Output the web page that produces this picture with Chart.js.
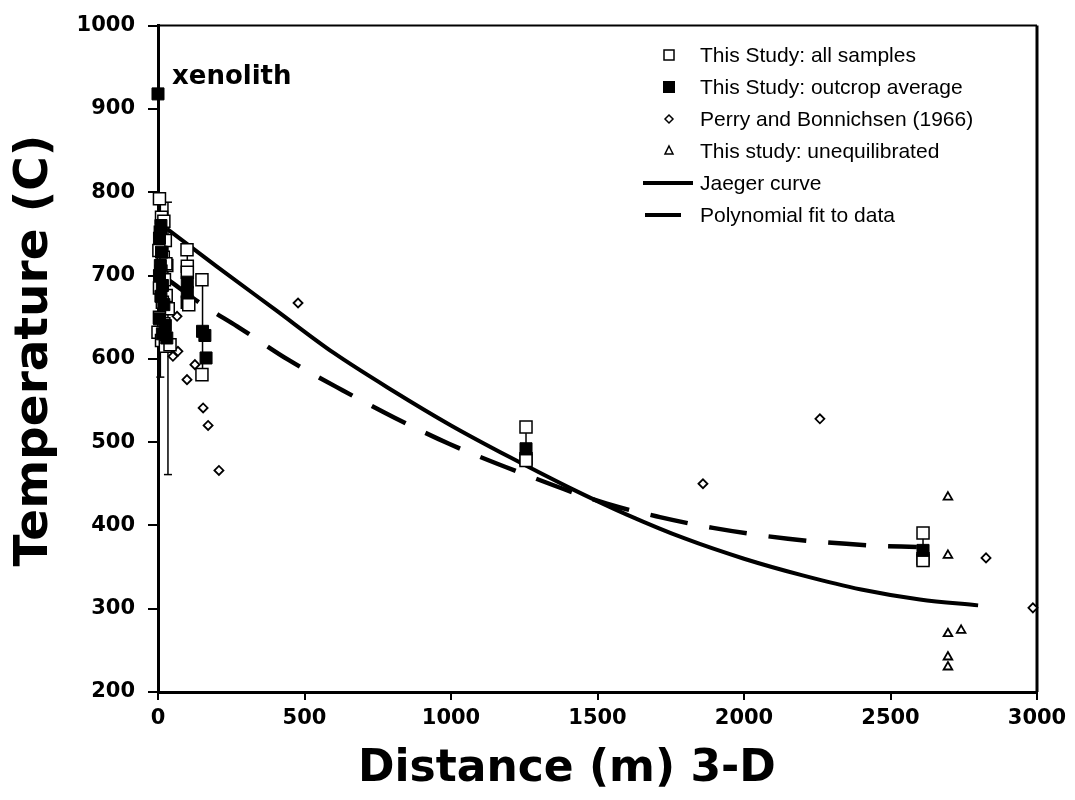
<!DOCTYPE html>
<html>
<head>
<meta charset="utf-8">
<script src="https://cdn.jsdelivr.net/npm/chart.js@4.4.1/dist/chart.umd.min.js"></script>
<style>
  html, body { margin: 0; padding: 0; background: #fff; }
  #wrap { width: 1075px; height: 800px; }
</style>
</head>
<body>
<div id="wrap"><canvas id="tempChart" width="1075" height="800"></canvas></div>
<script>
// --- datos ---
const xTicks = [0, 500, 1000, 1500, 2000, 2500, 3000];
const yTicks = [200, 300, 400, 500, 600, 700, 800, 900, 1000];

// This Study: all samples (cuadro abierto)
const allSamplesX = [5, 12, 20, 8, 25, 3, 18, 30, 27, 10, 22, 5, 28, 15, 35, 5, 20, 0, 12, 25, 41,
                     99, 100, 100, 100, 105, 150, 150, 1256, 1256, 1256, 2611, 2611, 2611];
const allSamplesY = [792, 770, 765, 752, 742, 730, 722, 712, 714, 705, 695, 685, 676, 668, 660, 650, 642, 632, 622, 615, 617,
                     731, 711, 704, 668, 665, 695, 581, 518, 480, 478, 391, 360, 358];

// This Study: outcrop average (cuadro lleno)
const outcropX = [0, 10, 5, 12, 8, 5, 15, 10, 20, 5, 25, 15, 30, 100, 100, 152, 160, 164, 1256, 2611];
const outcropY = [918, 760, 745, 728, 712, 700, 688, 675, 665, 648, 640, 630, 625, 692, 680, 633, 628, 601, 492, 370];

// Perry and Bonnichsen (1966)
const perryX = [65, 68, 51, 126, 99, 154, 171, 208, 478, 1860, 2259, 2826, 2986];
const perryY = [651, 609, 603, 593, 575, 541, 520, 466, 667, 450, 528, 361, 301];

// This study: unequilibrated
const uneqX = [2696, 2696, 2696, 2741, 2696, 2696];
const uneqY = [434, 364, 270, 274, 242, 230];

// barras de error: x, minimo, maximo
const errX = [8, 34, 100, 152, 1256, 2611];
const errLo = [578, 461, 665, 581, 478, 358];
const errHi = [792, 788, 731, 700, 518, 391];

// Jaeger curve
const jaegerX = [31, 200, 400, 600, 800, 1000, 1200, 1400, 1600, 1800, 2000, 2200, 2400, 2600, 2799];
const jaegerY = [756, 711, 659, 607, 562, 520, 482, 446, 413, 384, 360, 340, 323, 311, 304];

// Polynomial fit to data
const polyX = [34, 160, 270, 444, 631, 809, 993, 1246, 1532, 1713, 1894, 2150, 2430, 2590];
const polyY = [695, 663, 639, 599, 562, 529, 498, 462, 426, 410, 397, 384, 376, 374];

const legendLabels = [
    'This Study: all samples',
    'This Study: outcrop average',
    'Perry and Bonnichsen (1966)',
    'This study: unequilibrated',
    'Jaeger curve',
    'Polynomial fit to data'
];

function toPoints(xs, ys) {
    return xs.map((x, i) => ({ x: x, y: ys[i] }));
}

function errorPoints() {
    const pts = [];
    errX.forEach((x, i) => {
        pts.push({ x: x, y: errLo[i] });
        pts.push({ x: x, y: errHi[i] });
        pts.push({ x: x, y: null });
    });
    return pts;
}

const boldFont = '"DejaVu Sans", sans-serif';

// marco superior y derecho
const framePlugin = {
    id: 'frame',
    beforeDatasetsDraw(chart) {
        const { ctx, chartArea } = chart;
        ctx.save();
        ctx.strokeStyle = '#000';
        ctx.lineWidth = 2;
        ctx.beginPath();
        ctx.moveTo(chartArea.left, chartArea.top);
        ctx.lineTo(chartArea.right, chartArea.top);
        ctx.stroke();
        ctx.lineWidth = 3;
        ctx.beginPath();
        ctx.moveTo(chartArea.right, chartArea.top);
        ctx.lineTo(chartArea.right, chartArea.bottom);
        ctx.stroke();
        ctx.restore();
    }
};

// leyenda y etiqueta "xenolith"
const legendPlugin = {
    id: 'insideLegend',
    afterDraw(chart) {
        const ctx = chart.ctx;
        ctx.save();
        ctx.fillStyle = '#000';
        ctx.strokeStyle = '#000';
        ctx.textBaseline = 'middle';
        ctx.font = '21px "Liberation Sans", Arial, sans-serif';
        const rows = [55, 87, 119, 151, 183, 215];
        const mx = 669;
        const tx = 700;

        // cuadro abierto
        ctx.lineWidth = 1.5;
        ctx.strokeRect(mx - 5, rows[0] - 5, 10, 10);
        // cuadro lleno
        ctx.fillRect(mx - 6, rows[1] - 6, 12, 12);
        // rombo
        ctx.beginPath();
        ctx.moveTo(mx, rows[2] - 4);
        ctx.lineTo(mx + 4, rows[2]);
        ctx.lineTo(mx, rows[2] + 4);
        ctx.lineTo(mx - 4, rows[2]);
        ctx.closePath();
        ctx.stroke();
        // triangulo
        ctx.beginPath();
        ctx.moveTo(mx, rows[3] - 5);
        ctx.lineTo(mx + 4, rows[3] + 3);
        ctx.lineTo(mx - 4, rows[3] + 3);
        ctx.closePath();
        ctx.stroke();
        // lineas
        ctx.lineWidth = 4;
        ctx.beginPath();
        ctx.moveTo(643, rows[4]);
        ctx.lineTo(693, rows[4]);
        ctx.stroke();
        ctx.beginPath();
        ctx.moveTo(645, rows[5]);
        ctx.lineTo(681, rows[5]);
        ctx.stroke();

        legendLabels.forEach((label, i) => {
            ctx.fillText(label, tx, rows[i] + 1);
        });

        // etiqueta del xenolito, al lado de su punto
        const xs = chart.scales.x;
        const ys = chart.scales.y;
        ctx.font = 'bold 26px ' + boldFont;
        ctx.textBaseline = 'middle';
        ctx.fillText('xenolith', xs.getPixelForValue(0) + 14, ys.getPixelForValue(918) - 17);
        ctx.restore();
    }
};

new Chart(document.getElementById('tempChart').getContext('2d'), {
    type: 'scatter',
    data: {
        datasets: [
            {
                label: legendLabels[1],
                data: toPoints(outcropX, outcropY),
                pointStyle: 'rect',
                pointRadius: 8.5,
                backgroundColor: '#000',
                borderColor: '#000',
                borderWidth: 1,
                clip: false,
                order: 0
            },
            {
                label: legendLabels[0],
                data: toPoints(allSamplesX, allSamplesY),
                pointStyle: 'rect',
                pointRadius: 8.5,
                backgroundColor: '#fff',
                borderColor: '#000',
                borderWidth: 1.5,
                clip: false,
                order: 1
            },
            {
                label: legendLabels[2],
                data: toPoints(perryX, perryY),
                pointStyle: 'rectRot',
                pointRadius: 4.5,
                backgroundColor: '#fff',
                borderColor: '#000',
                borderWidth: 1.8,
                clip: false,
                order: 2
            },
            {
                label: legendLabels[3],
                data: toPoints(uneqX, uneqY),
                pointStyle: 'triangle',
                pointRadius: 5,
                backgroundColor: '#fff',
                borderColor: '#000',
                borderWidth: 1.8,
                clip: false,
                order: 3
            },
            {
                label: 'error',
                data: errorPoints(),
                showLine: true,
                spanGaps: false,
                borderColor: '#000',
                borderWidth: 1.5,
                pointStyle: 'line',
                pointRadius: 4,
                pointBorderWidth: 1.5,
                pointBorderColor: '#000',
                clip: false,
                order: 4
            },
            {
                label: legendLabels[4],
                data: toPoints(jaegerX, jaegerY),
                showLine: true,
                cubicInterpolationMode: 'monotone',
                borderColor: '#000',
                borderWidth: 4,
                pointRadius: 0,
                order: 5
            },
            {
                label: legendLabels[5],
                data: toPoints(polyX, polyY),
                showLine: true,
                cubicInterpolationMode: 'monotone',
                borderColor: '#000',
                borderWidth: 4.5,
                borderDash: [38, 22],
                pointRadius: 0,
                order: 6
            }
        ]
    },
    options: {
        responsive: false,
        animation: false,
        layout: { padding: { left: 5, right: 38, top: 23, bottom: 4 } },
        plugins: {
            legend: { display: false },
            tooltip: { enabled: false }
        },
        scales: {
            x: {
                type: 'linear',
                min: xTicks[0],
                max: xTicks[xTicks.length - 1],
                afterBuildTicks: (scale) => { scale.ticks = xTicks.map(v => ({ value: v })); },
                afterFit: (scale) => { scale.height = 104; },
                ticks: {
                    color: '#000',
                    padding: 6,
                    callback: (v) => String(v),
                    font: { family: boldFont, weight: 'bold', size: 21 }
                },
                grid: { drawOnChartArea: false, drawTicks: true, tickLength: 8, color: '#000', lineWidth: 2 },
                border: { color: '#000', width: 3 },
                title: {
                    display: true,
                    text: 'Distance (m) 3-D    ',
                    color: '#000',
                    padding: 0,
                    font: { family: boldFont, weight: 'bold', size: 44 }
                }
            },
            y: {
                type: 'linear',
                min: yTicks[0],
                max: yTicks[yTicks.length - 1],
                afterBuildTicks: (scale) => { scale.ticks = yTicks.map(v => ({ value: v })); },
                afterFit: (scale) => { scale.width = 153; },
                ticks: {
                    color: '#000',
                    padding: 13,
                    callback: (v) => String(v),
                    font: { family: boldFont, weight: 'bold', size: 21 }
                },
                grid: { drawOnChartArea: false, drawTicks: true, tickLength: 10, color: '#000', lineWidth: 2 },
                border: { color: '#000', width: 3 },
                title: {
                    display: true,
                    text: ' Temperature (C)',
                    color: '#000',
                    padding: 2,
                    font: { family: boldFont, weight: 'bold', size: 47 }
                }
            }
        }
    },
    plugins: [framePlugin, legendPlugin]
});
</script>
</body>
</html>
